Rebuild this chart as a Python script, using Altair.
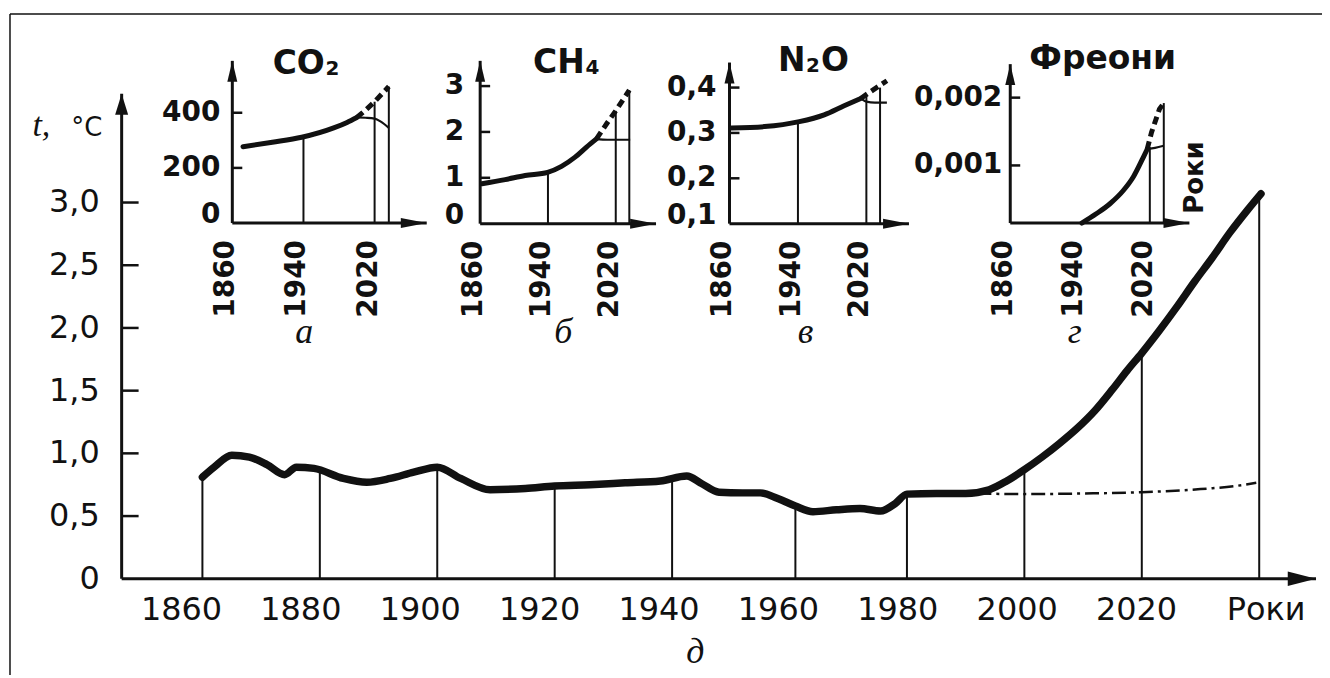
import altair as alt
import pandas as pd

# ======================= DATA =======================
# main chart (д): temperature, °C
temp_years = [1860, 1862, 1865, 1868, 1871, 1874, 1876, 1879, 1884, 1888,
              1892, 1896, 1900, 1904, 1909, 1915, 1920, 1926, 1932, 1938,
              1942.5, 1945, 1948, 1952, 1955, 1958, 1961, 1964, 1968, 1972,
              1975.5, 1978, 1980, 1985, 1990, 1994, 1997, 2000, 2003, 2006,
              2009, 2012, 2015, 2017.5, 2020, 2023, 2026, 2029, 2032, 2035,
              2038, 2040.3]
temp_values = [0.81, 0.89, 0.985, 0.97, 0.91, 0.83, 0.89, 0.88, 0.80, 0.77,
               0.80, 0.85, 0.89, 0.80, 0.71, 0.72, 0.74, 0.75, 0.765, 0.78,
               0.82, 0.76, 0.69, 0.685, 0.685, 0.64, 0.58, 0.535, 0.55, 0.56,
               0.54, 0.60, 0.675, 0.68, 0.68, 0.71, 0.78, 0.87, 0.97, 1.08,
               1.20, 1.34, 1.51, 1.66, 1.80, 1.98, 2.17, 2.37, 2.56, 2.76,
               2.94, 3.07]
flat_years = [1992, 2000, 2010, 2020, 2030, 2036, 2039.5]
flat_values = [0.68, 0.675, 0.68, 0.69, 0.715, 0.74, 0.765]
temp_drop_years = [1860, 1880, 1900, 1920, 1940, 1961, 1980, 2000, 2020, 2040]
temp_drop_values = [0.81, 0.87, 0.89, 0.74, 0.80, 0.58, 0.675, 0.87, 1.80, 3.07]
temp_y_labels = [0, 0.5, 1.0, 1.5, 2.0, 2.5, 3.0]
temp_y_text = ["0", "0,5", "1,0", "1,5", "2,0", "2,5", "3,0"]
temp_y_ticks = [0.5, 1.0, 1.5, 2.0, 2.5, 3.0]
temp_x_labels = [1860, 1880, 1900, 1920, 1940, 1960, 1980, 2000, 2020]
temp_x_text = ["1860", "1880", "1900", "1920", "1940", "1960", "1980", "2000", "2020"]
years_word = "Роки"
years_word_at = 2040

inset_x_labels = [1860, 1940, 2020]
inset_x_text = ["1860", "1940", "2020"]

# а) CO2
co2_years = [1872, 1905, 1938, 1974, 1989, 2000]
co2_values = [277, 293, 311, 345, 365, 383]
co2_high_years = [2000, 2010, 2020, 2036]
co2_high_values = [383, 410, 440, 495]
co2_low_years = [2000, 2010, 2020, 2027, 2036]
co2_low_values = [383, 382, 379, 368, 345]
co2_drop_years = [1940, 2020, 2036]
co2_drop_values = [313, 440, 495]
co2_y_labels = [0, 200, 400]
co2_y_text = ["0", "200", "400"]
co2_y_ticks = [200, 400]

# б) CH4
ch4_years = [1862, 1889.5, 1913, 1939.6, 1956, 1972, 1985.5, 1997.3]
ch4_values = [0.87, 0.96, 1.05, 1.12, 1.25, 1.45, 1.67, 1.85]
ch4_high_years = [1997.3, 2010, 2020, 2036]
ch4_high_values = [1.85, 2.2, 2.46, 2.91]
ch4_low_years = [1997.3, 2010, 2025, 2037]
ch4_low_values = [1.85, 1.83, 1.83, 1.83]
ch4_drop_years = [1940, 2020, 2036]
ch4_drop_values = [1.12, 2.46, 2.91]
ch4_y_labels = [0, 1, 2, 3]
ch4_y_text = ["0", "1", "2", "3"]
ch4_y_ticks = [1, 2, 3]

# в) N2O
n2o_years = [1862, 1901, 1941.6, 1970.7, 1994, 2013.4]
n2o_values = [0.311, 0.314, 0.325, 0.34, 0.36, 0.376]
n2o_high_years = [2013.4, 2024, 2036, 2044]
n2o_high_values = [0.376, 0.39, 0.405, 0.415]
n2o_low_years = [2013.4, 2020, 2030, 2044]
n2o_low_values = [0.376, 0.369, 0.367, 0.367]
n2o_drop_years = [1940, 2020, 2036]
n2o_drop_values = [0.325, 0.38, 0.40]
n2o_y_labels = [0.1, 0.2, 0.3, 0.4]
n2o_y_text = ["0,1", "0,2", "0,3", "0,4"]
n2o_y_ticks = [0.2, 0.3, 0.4]

# г) Freons
fre_years = [1942, 1959, 1974.3, 1989.6, 2001, 2012.5, 2017]
fre_values = [0.00015, 0.00029, 0.000435, 0.00063, 0.00083, 0.00112, 0.00124]
fre_high_years = [2017, 2022, 2031, 2036]
fre_high_values = [0.00124, 0.00149, 0.00183, 0.00192]
fre_low_years = [2017, 2026, 2036]
fre_low_values = [0.00124, 0.00126, 0.00129]
fre_drop_years = [2020, 2036]
fre_drop_values = [0.00127, 0.00192]
fre_y_labels = [0.001, 0.002]
fre_y_text = ["0,001", "0,002"]
fre_y_ticks = [0.001, 0.002]

# ======================= LAYOUT / STYLE =======================
W, H = 1316, 663          # view size
OX, OY = 10, 13           # page position of the view origin
INK = "#111111"
SANS = "DejaVu Sans"
SERIF = "Liberation Serif"

UP_MAIN = "M0,0L-0.62,2L0.62,2Z"
RIGHT_MAIN = "M0,0L-2.7,-0.7L-2.7,0.7Z"
UP_INSET = "M0,0L-0.5,2.1L0.5,2.1Z"
RIGHT_INSET = "M0,0L-2.6,-0.5L-2.6,0.5Z"


def enc(xs, ys, xf="year", yf="v"):
    return dict(x=alt.X(f"{xf}:Q", scale=xs, axis=None), y=alt.Y(f"{yf}:Q", scale=ys, axis=None))


def frame_axes(xs, ys, xdom, ydom, dom_width, arrow_up, arrow_right, arrow_size):
    d_dom = pd.DataFrame({"x": [xdom[0], xdom[0]], "y": [ydom[0], ydom[0]],
                          "x2": [xdom[1], xdom[0]], "y2": [ydom[0], ydom[1]]})
    d_arr = pd.DataFrame({"x": [xdom[0], xdom[1]], "y": [ydom[1], ydom[0]],
                          "shape": [arrow_up, arrow_right]})
    dom = alt.Chart(d_dom).mark_rule(color=INK, strokeWidth=dom_width).encode(
        x=alt.X("x:Q", scale=xs, axis=None), y=alt.Y("y:Q", scale=ys, axis=None),
        x2="x2:Q", y2="y2:Q")
    arr = alt.Chart(d_arr).mark_point(filled=True, color=INK, opacity=1, size=arrow_size,
                                      strokeWidth=0).encode(
        x=alt.X("x:Q", scale=xs, axis=None), y=alt.Y("y:Q", scale=ys, axis=None),
        shape=alt.Shape("shape:N", scale=None))
    return [dom, arr]


def pix_text(s, px, py, **kw):
    return alt.Chart(pd.DataFrame({"s": [s]})).mark_text(color=INK, **kw).encode(
        x=alt.value(px - OX), y=alt.value(py - OY), text="s:N")


def formula(parts, start_x, base_y):
    """Chemical formula: list of (text, font size, advance px, baseline shift)."""
    out, x = [], start_x
    for s, size, adv, shift in parts:
        out.append(pix_text(s, x, base_y + shift, font=SANS, fontWeight="bold",
                            fontSize=size, align="left", baseline="alphabetic"))
        x += adv
    return out


# ---------------- main chart ----------------
M_X0, M_X1 = 122, 1320        # page x: y-axis, x-arrow tip
M_Y0, M_Y1 = 579.5, 93        # page y: x-axis, y-arrow tip
M_LINE0, M_PPY, M_PPU = 203, 5.889, 125.8
LAB_X0, LAB_X1 = 182, 1140    # page x of the 1860 and 2020 year labels

mx_dom = [1860 - (M_LINE0 - M_X0) / M_PPY, 1860 + (M_X1 - M_LINE0) / M_PPY]
my_dom = [0, (M_Y0 - M_Y1) / M_PPU]
mxs = alt.Scale(domain=mx_dom, range=[M_X0 - OX, M_X1 - OX], nice=False, zero=False)
mys = alt.Scale(domain=my_dom, range=[M_Y0 - OY, M_Y1 - OY], nice=False, zero=False)
lab_xs = alt.Scale(domain=[temp_x_labels[0], temp_x_labels[-1]],
                   range=[LAB_X0 - OX, LAB_X1 - OX], nice=False, zero=False)

df_temp = pd.DataFrame({"year": temp_years, "v": temp_values})
df_flat = pd.DataFrame({"year": flat_years, "v": flat_values})
df_drop = pd.DataFrame({"year": temp_drop_years, "v": temp_drop_values, "base": my_dom[0]})
df_mticks = pd.DataFrame({"v": temp_y_ticks, "x0": mx_dom[0]})
df_mylab = pd.DataFrame({"v": temp_y_labels, "s": temp_y_text, "x0": mx_dom[0]})
df_mxlab = pd.DataFrame({"year": temp_x_labels, "s": temp_x_text, "v": my_dom[0]})
df_mword = pd.DataFrame({"year": [years_word_at], "s": [years_word], "v": my_dom[0]})

main_layers = [
    alt.Chart(df_drop).mark_rule(color=INK, strokeWidth=2).encode(**enc(mxs, mys), y2="base:Q"),
    alt.Chart(df_mticks).mark_tick(orient="horizontal", color=INK, size=17, thickness=2.5,
                                   xOffset=8.5, opacity=1).encode(**enc(mxs, mys, xf="x0")),
    alt.Chart(df_flat).mark_line(color=INK, strokeWidth=2.5, strokeDash=[14, 5, 3, 5],
                                 interpolate="monotone").encode(**enc(mxs, mys)),
    alt.Chart(df_temp).mark_line(color=INK, strokeWidth=7.5, strokeCap="round",
                                 strokeJoin="round", interpolate="monotone").encode(**enc(mxs, mys)),
    *frame_axes(mxs, mys, mx_dom, my_dom, 3, UP_MAIN, RIGHT_MAIN, 441),
    alt.Chart(df_mylab).mark_text(color=INK, font=SANS, fontSize=32, align="right",
                                  baseline="middle", dx=-22).encode(
        **enc(mxs, mys, xf="x0"), text="s:N"),
    alt.Chart(df_mword).mark_text(color=INK, font=SANS, fontSize=32, align="center",
                                  baseline="middle", dx=7, dy=31.5).encode(
        **enc(mxs, mys), text="s:N"),
    pix_text("t,", 41.5, 135, font=SERIF, fontStyle="italic", fontSize=34,
             align="center", baseline="alphabetic"),
    pix_text("°C", 87, 135, font=SANS, fontSize=26, align="center", baseline="alphabetic"),
    pix_text("д", 697.5, 664, font=SERIF, fontStyle="italic", fontSize=36,
             align="center", baseline="alphabetic"),
]
main = alt.layer(*main_layers)

# year labels of the main axis (their own label scale, as printed in the figure)
main_xlabels = alt.Chart(df_mxlab).mark_text(
    color=INK, font=SANS, fontSize=32, align="center", baseline="middle", dy=31.5).encode(
    x=alt.X("year:Q", scale=lab_xs, axis=None),
    y=alt.Y("v:Q", scale=mys, axis=None), text="s:N")


# ---------------- insets ----------------
def inset(g):
    xdom = [1860, 1860 + (g["x1"] - g["x0"]) / g["ppy"]]
    ydom = [g["v0"], g["v0"] + (g["y0"] - g["y1"]) / g["ppu"]]
    xs = alt.Scale(domain=xdom, range=[g["x0"] - OX, g["x1"] - OX], nice=False, zero=False)
    ys = alt.Scale(domain=ydom, range=[g["y0"] - OY, g["y1"] - OY], nice=False, zero=False)

    d_drop = pd.DataFrame({"year": g["dy"], "v": g["dv"], "base": ydom[0]})
    d_ticks = pd.DataFrame({"v": g["yticks"], "x0": xdom[0]})
    d_low = pd.DataFrame({"year": g["ly"], "v": g["lv"]})
    d_high = pd.DataFrame({"year": g["hy"], "v": g["hv"]})
    d_main = pd.DataFrame({"year": g["my"], "v": g["mv"]})
    d_ylab = pd.DataFrame({"v": g["ylabels"], "s": g["ytext"], "x0": xdom[0]})
    d_xlab = pd.DataFrame({"year": inset_x_labels, "s": inset_x_text, "v": ydom[0]})
    on_axis = d_ylab["v"] <= ydom[0] + 1e-12

    layers = [
        alt.Chart(d_drop).mark_rule(color=INK, strokeWidth=2).encode(**enc(xs, ys), y2="base:Q"),
        alt.Chart(d_ticks).mark_tick(orient="horizontal", color=INK, size=10, thickness=2.5,
                                     xOffset=5, opacity=1).encode(**enc(xs, ys, xf="x0")),
        alt.Chart(d_low).mark_line(color=INK, strokeWidth=2.2, interpolate="monotone").encode(
            **enc(xs, ys)),
        alt.Chart(d_high).mark_line(color=INK, strokeWidth=5, strokeDash=[8, 5]).encode(
            **enc(xs, ys)),
        alt.Chart(d_main).mark_line(color=INK, strokeWidth=5, strokeCap="round",
                                    strokeJoin="round", interpolate="monotone").encode(
            **enc(xs, ys)),
        *frame_axes(xs, ys, xdom, ydom, 3, UP_INSET, RIGHT_INSET, 400),
        alt.Chart(d_xlab).mark_text(color=INK, font=SANS, fontWeight="bold", fontSize=28,
                                    angle=270, align="right", baseline="middle",
                                    dx=-17, dy=-6).encode(**enc(xs, ys), text="s:N"),
        pix_text(g["letter"], g["lx"], 343, font=SERIF, fontStyle="italic", fontSize=36,
                 align="center", baseline="alphabetic"),
    ]
    if "parts" in g:
        layers += formula(g["parts"], g["tx"], g["ty"])
    else:
        layers.append(pix_text(g["title"], g["tx"], g["ty"], font=SANS, fontWeight="bold",
                               fontSize=33, align="center", baseline="alphabetic"))
    if (~on_axis).any():
        layers.append(alt.Chart(d_ylab[~on_axis]).mark_text(
            color=INK, font=SANS, fontWeight="bold", fontSize=28, align="right",
            baseline="middle", dx=-g["lpad"]).encode(**enc(xs, ys, xf="x0"), text="s:N"))
    if on_axis.any():
        layers.append(alt.Chart(d_ylab[on_axis]).mark_text(
            color=INK, font=SANS, fontWeight="bold", fontSize=28, align="right",
            baseline="alphabetic", dx=-g["lpad"]).encode(**enc(xs, ys, xf="x0"), text="s:N"))
    if "extra" in g:
        layers.append(pix_text(g["extra"], g["ex"], g["ey"], font=SANS, fontWeight="bold",
                               fontSize=26, angle=270, align="center", baseline="middle"))
    return alt.layer(*layers)


co2 = inset(dict(x0=233, x1=428, y0=222.7, y1=60, ppy=0.892, v0=0, ppu=0.2766,
                 parts=[("CO", 33, 53, 0), ("2", 20, 14, 1)], tx=273.5, ty=73,
                 letter="а", lx=305, lpad=12,
                 ylabels=co2_y_labels, ytext=co2_y_text, yticks=co2_y_ticks,
                 my=co2_years, mv=co2_values, hy=co2_high_years, hv=co2_high_values,
                 ly=co2_low_years, lv=co2_low_values, dy=co2_drop_years, dv=co2_drop_values))
ch4 = inset(dict(x0=481.6, x1=658, y0=223.3, y1=60, ppy=0.85, v0=0, ppu=46,
                 parts=[("CH", 33, 52.5, 0), ("4", 20, 14, 1)], tx=534.7, ty=72,
                 letter="б", lx=565, lpad=16,
                 ylabels=ch4_y_labels, ytext=ch4_y_text, yticks=ch4_y_ticks,
                 my=ch4_years, mv=ch4_values, hy=ch4_high_years, hv=ch4_high_values,
                 ly=ch4_low_years, lv=ch4_low_values, dy=ch4_drop_years, dv=ch4_drop_values))
n2o = inset(dict(x0=731.7, x1=911.7, y0=223.3, y1=61.7, ppy=0.858, v0=0.1, ppu=455,
                 parts=[("N", 33, 28, 0), ("2", 20, 15, 1), ("O", 33, 28, 0)], tx=780.4, ty=70,
                 letter="в", lx=808, lpad=13,
                 ylabels=n2o_y_labels, ytext=n2o_y_text, yticks=n2o_y_ticks,
                 my=n2o_years, mv=n2o_values, hy=n2o_high_years, hv=n2o_high_values,
                 ly=n2o_low_years, lv=n2o_low_values, dy=n2o_drop_years, dv=n2o_drop_values))
fre = inset(dict(x0=1013.3, x1=1193, y0=222.7, y1=63.3, ppy=0.875, v0=0.00015, ppu=68000,
                 title="Фреони", tx=1106, ty=68, letter="г", lx=1078, lpad=8,
                 ylabels=fre_y_labels, ytext=fre_y_text, yticks=fre_y_ticks,
                 my=fre_years, mv=fre_values, hy=fre_high_years, hv=fre_high_values,
                 ly=fre_low_years, lv=fre_low_values, dy=fre_drop_years, dv=fre_drop_values,
                 extra="Роки", ex=1199, ey=177))

# ---------------- frame (top & left border of the picture) ----------------
frame_src = pd.DataFrame({"k": [0]})
frame_top = alt.Chart(frame_src).mark_rule(color=INK, strokeWidth=1.5).encode(
    x=alt.value(0), x2=alt.value(W), y=alt.value(0))
frame_left = alt.Chart(frame_src).mark_rule(color=INK, strokeWidth=1.5).encode(
    x=alt.value(0), y=alt.value(0), y2=alt.value(H))

chart = alt.layer(main, main_xlabels, co2, ch4, n2o, fre, frame_top, frame_left).resolve_scale(
    x="independent", y="independent"
).properties(
    width=W, height=H,
    padding={"left": 2, "top": 5, "right": 0, "bottom": 0},
    autosize=alt.AutoSizeParams(type="none"),
    background="white",
).configure_view(stroke=None)

chart.save("out.html", embed_options={"renderer": "svg", "actions": False})
